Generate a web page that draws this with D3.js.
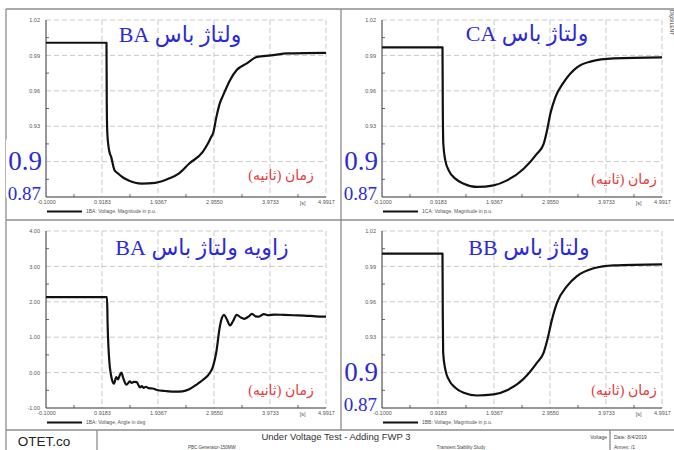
<!DOCTYPE html>
<html>
<head>
<meta charset="utf-8">
<script src="https://cdn.jsdelivr.net/npm/d3@7"></script>
<style>
  body { margin: 0; background: #fff; }
  svg { display: block; }
</style>
</head>
<body>
<script>
// time axis (seconds) shared by all four plots
var xTicks = [-0.1, 0.9183, 1.9367, 2.955, 3.9733, 4.9917];
var xTickLabels = ["-0.1000", "0.9183", "1.9367", "2.9550", "3.9733", "4.9917"];

var magTicks = [0.87, 0.90, 0.93, 0.96, 0.99, 1.02];
var magTickLabels = ["0.87", "0.90", "0.93", "0.96", "0.99", "1.02"];
var angTicks = [-1, 0, 1, 2, 3, 4];
var angTickLabels = ["-1.00", "0.00", "1.00", "2.00", "3.00", "4.00"];

// bus BA voltage magnitude (p.u.)
var timeBA = [-0.1, 1.0, 1.005, 1.015, 1.05, 1.085, 1.146, 1.209, 1.30, 1.394, 1.64, 1.887, 2.135, 2.32, 2.505, 2.751, 2.844, 2.905, 2.937, 2.999, 3.06, 3.122, 3.246, 3.368, 3.553, 3.738, 3.986, 4.294, 4.9917];
var voltBA = [1.0007, 1.0007, 0.95, 0.924, 0.909, 0.904, 0.8927, 0.890, 0.8865, 0.8842, 0.8814, 0.882, 0.8856, 0.890, 0.8984, 0.9082, 0.9153, 0.921, 0.9238, 0.9379, 0.9493, 0.9563, 0.969, 0.9776, 0.9832, 0.9888, 0.990, 0.9917, 0.9922];

// bus CA voltage magnitude (p.u.)
var timeCA = [-0.1, 1.0, 1.005, 1.015, 1.051, 1.113, 1.233, 1.386, 1.628, 1.931, 2.173, 2.477, 2.719, 2.84, 2.901, 2.961, 3.052, 3.204, 3.446, 3.688, 4.113, 4.9917];
var voltCA = [0.9968, 0.9968, 0.95, 0.9151, 0.901, 0.8926, 0.8856, 0.8813, 0.8785, 0.8799, 0.8841, 0.894, 0.9067, 0.9151, 0.9264, 0.9405, 0.9545, 0.9672, 0.9799, 0.9847, 0.9875, 0.9883];

// bus BB voltage magnitude (p.u.)
var timeBB = [-0.1, 1.0, 1.005, 1.012, 1.051, 1.113, 1.233, 1.386, 1.628, 1.931, 2.173, 2.477, 2.719, 2.84, 2.901, 2.992, 3.083, 3.264, 3.446, 3.75, 4.113, 4.9917];
var voltBB = [1.0008, 1.0008, 0.95, 0.9169, 0.9027, 0.8942, 0.8872, 0.8829, 0.8806, 0.8815, 0.8851, 0.8948, 0.9084, 0.9169, 0.9267, 0.9451, 0.9593, 0.9733, 0.9818, 0.9884, 0.9909, 0.9918];

// bus BA voltage angle (deg)
var timeAng = [-0.1, 1.01, 1.02, 1.05, 1.08, 1.10, 1.135, 1.178, 1.209, 1.24, 1.27, 1.31, 1.363, 1.424, 1.46, 1.50, 1.55, 1.609, 1.64, 1.672, 1.72, 1.764, 1.84, 1.918, 2.072, 2.257, 2.381, 2.505, 2.627, 2.751, 2.875, 2.936, 2.998, 3.061, 3.10, 3.135, 3.19, 3.246, 3.30, 3.368, 3.44, 3.505, 3.58, 3.646, 3.71, 3.77, 3.862, 3.95, 4.05, 4.23, 4.40, 4.60, 4.80, 4.9917];
var angBA = [2.13, 2.13, 1.40, 0.35, -0.05, -0.20, -0.31, -0.13, -0.19, -0.08, 0.0, -0.18, -0.34, -0.25, -0.29, -0.26, -0.27, -0.42, -0.38, -0.43, -0.40, -0.44, -0.45, -0.49, -0.52, -0.54, -0.53, -0.47, -0.35, -0.21, -0.02, 0.17, 0.59, 1.30, 1.55, 1.63, 1.50, 1.33, 1.45, 1.63, 1.56, 1.52, 1.58, 1.66, 1.59, 1.58, 1.65, 1.62, 1.64, 1.63, 1.62, 1.61, 1.59, 1.58];

var timeLabel = "زمان (ثانیه)";

var W = 280, H = 177;
var blue = "#2a2ad8", red = "#e3383c", frameCol = "#8c8c8c";
var labelFont = "'Liberation Sans', Arial, sans-serif";
var serif = "'Liberation Serif', 'DejaVu Sans', serif";

var panels = [
  {left: 46, top: 20, t: timeBA, v: voltBA, ang: false, title: "ولتاژ باس BA", tx: 180, ty: 42,
   legend: "1BA: Voltage, Magnitude in p.u.", rx: 281, ry: 180},
  {left: 382, top: 20, t: timeCA, v: voltCA, ang: false, title: "ولتاژ باس CA", tx: 527, ty: 41,
   legend: "1CA: Voltage, Magnitude in p.u.", rx: 624, ry: 184},
  {left: 46, top: 231, t: timeAng, v: angBA, ang: true, title: "زاویه ولتاژ باس BA", tx: 202, ty: 255,
   legend: "1BA: Voltage, Angle in deg", rx: 281, ry: 395},
  {left: 382, top: 231, t: timeBB, v: voltBB, ang: false, title: "ولتاژ باس BB", tx: 529, ty: 255,
   legend: "1BB: Voltage, Magnitude in p.u.", rx: 624, ry: 395}
];

var svg = d3.select("body").append("svg")
  .attr("width", 674)
  .attr("height", 450);

svg.append("rect").attr("width", 674).attr("height", 450).attr("fill", "#fff");

// frame of the report sheet
var frame = [
  [6, 9, 674, 9], [6, 9, 6, 450], [341, 9, 341, 430],
  [6, 220, 674, 220], [6, 430, 674, 430], [97, 430, 97, 450], [610, 430, 610, 450]
];
svg.selectAll(".frame").data(frame).enter().append("line")
  .attr("class", "frame")
  .attr("x1", d => d[0]).attr("y1", d => d[1])
  .attr("x2", d => d[2]).attr("y2", d => d[3])
  .attr("stroke", frameCol).attr("stroke-width", 1.3);

panels.forEach(function(p) {
  var x = d3.scaleLinear().domain([-0.1, 4.9917]).range([0, W]);
  var yTicks = p.ang ? angTicks : magTicks;
  var yLabels = p.ang ? angTickLabels : magTickLabels;
  var y = d3.scaleLinear().domain(d3.extent(yTicks)).range([H, 0]);

  var g = svg.append("g").attr("transform", "translate(" + p.left + "," + p.top + ")");

  // dashed grid
  g.selectAll(".hgrid").data(yTicks.slice(1)).enter().append("line")
    .attr("x1", 0).attr("x2", W)
    .attr("y1", d => y(d)).attr("y2", d => y(d))
    .attr("stroke", "#c3c3c3").attr("stroke-width", 0.9).attr("stroke-dasharray", "5,3");
  g.selectAll(".vgrid").data(xTicks.slice(1)).enter().append("line")
    .attr("y1", 0).attr("y2", H)
    .attr("x1", d => x(d)).attr("x2", d => x(d))
    .attr("stroke", "#c3c3c3").attr("stroke-width", 0.9).attr("stroke-dasharray", "5,3");

  // axes; on the magnitude plots the two lowest labels sit under the big blue ones
  var shown = p.ang ? yTicks : yTicks.filter(d => d > 0.905);
  var yAxis = g.append("g").call(d3.axisLeft(y).tickValues(shown)
    .tickFormat(d => yLabels[yTicks.indexOf(d)]).tickSize(0).tickPadding(6));
  var xAxis = g.append("g").attr("transform", "translate(0," + H + ")")
    .call(d3.axisBottom(x).tickValues(xTicks)
      .tickFormat((d, i) => xTickLabels[i]).tickSize(0).tickPadding(3));
  [yAxis, xAxis].forEach(function(a) {
    a.select(".domain").remove();
    a.selectAll("text").attr("font-size", 5.5).attr("font-family", labelFont).attr("fill", "#555");
  });
  g.append("text")
    .attr("x", x(4.565)).attr("y", H + 7.5)
    .attr("text-anchor", "middle")
    .attr("font-size", 5.5).attr("font-family", labelFont).attr("fill", "#555")
    .text("[s]");

  // big hand-added labels
  if (!p.ang) {
    g.append("rect")
      .attr("x", -40).attr("y", y(0.90) - 22).attr("width", 39.5).attr("height", 58)
      .attr("fill", "#fff");
    g.append("text")
      .attr("x", -4).attr("y", H - 27)
      .attr("text-anchor", "end")
      .attr("font-family", serif).attr("font-size", 27).attr("fill", blue)
      .text("0.9");
    g.append("text")
      .attr("x", -5).attr("y", H + 3)
      .attr("text-anchor", "end")
      .attr("font-family", serif).attr("font-size", 19).attr("fill", blue)
      .text("0.87");
  }

  // minor ticks
  var yMinor = d3.pairs(yTicks).map(d => (d[0] + d[1]) / 2);
  var xMinor = d3.pairs(xTicks).map(d => (d[0] + d[1]) / 2);
  g.selectAll(".ymin").data(yMinor).enter().append("line")
    .attr("x1", 0).attr("x2", 3).attr("y1", d => y(d)).attr("y2", d => y(d))
    .attr("stroke", "#444").attr("stroke-width", 0.8);
  g.selectAll(".xmin").data(xMinor).enter().append("line")
    .attr("y1", H).attr("y2", H - 3).attr("x1", d => x(d)).attr("x2", d => x(d))
    .attr("stroke", "#444").attr("stroke-width", 0.8);

  // axis lines
  g.append("line").attr("x1", 0).attr("x2", 0).attr("y1", 0).attr("y2", H)
    .attr("stroke", "#333").attr("stroke-width", 1);
  g.append("line").attr("x1", 0).attr("x2", W).attr("y1", H).attr("y2", H)
    .attr("stroke", "#333").attr("stroke-width", 1);

  // the curve
  var line = d3.line()
    .x((d, i) => x(p.t[i]))
    .y(d => y(d))
    .curve(d3.curveMonotoneX);
  g.append("path")
    .attr("d", line(p.v))
    .attr("fill", "none")
    .attr("stroke", "#111")
    .attr("stroke-width", 2.2)
    .attr("stroke-linejoin", "round");

  // legend
  g.append("line").attr("x1", 1).attr("x2", 36).attr("y1", H + 14.5).attr("y2", H + 14.5)
    .attr("stroke", "#111").attr("stroke-width", 2);
  g.append("text")
    .attr("x", 40).attr("y", H + 16.3)
    .attr("font-size", 5).attr("font-family", labelFont).attr("fill", "#555")
    .text(p.legend);

  // titles (absolute positions)
  svg.append("text")
    .attr("x", p.tx).attr("y", p.ty)
    .attr("direction", "rtl")
    .attr("text-anchor", "middle")
    .attr("font-family", serif).attr("font-size", 22).attr("fill", blue)
    .text(p.title);
  svg.append("text")
    .attr("x", p.rx).attr("y", p.ry)
    .attr("direction", "rtl")
    .attr("text-anchor", "middle")
    .attr("font-family", serif).attr("font-size", 14).attr("fill", red)
    .text(timeLabel);
});

// small rotated stamp at the top right
svg.append("text")
  .attr("transform", "translate(670,10) rotate(90)")
  .attr("font-size", 5).attr("font-family", labelFont).attr("fill", "#333")
  .text("DIgSILENT");

// title block
var tb = svg.append("g").attr("font-family", labelFont);
tb.append("text").attr("x", 44).attr("y", 446).attr("text-anchor", "middle")
  .attr("font-size", 13.5).attr("fill", "#222").text("OTET.co");
tb.append("text").attr("x", 336).attr("y", 440).attr("text-anchor", "middle")
  .attr("font-size", 9.5).attr("fill", "#333").text("Under Voltage Test - Adding FWP 3");
tb.append("text").attr("x", 188).attr("y", 449)
  .attr("font-size", 4.5).attr("fill", "#444").text("PBC Generator-150MW");
tb.append("text").attr("x", 461).attr("y", 449).attr("text-anchor", "middle")
  .attr("font-size", 4.5).attr("fill", "#444").text("Transient Stability Study");
tb.append("text").attr("x", 607).attr("y", 439).attr("text-anchor", "end")
  .attr("font-size", 5).attr("fill", "#444").text("Voltage");
tb.append("text").attr("x", 614).attr("y", 439)
  .attr("font-size", 5).attr("fill", "#444").text("Date: 8/4/2019");
tb.append("text").attr("x", 614).attr("y", 449)
  .attr("font-size", 5).attr("fill", "#444").text("Annex: /1");
</script>
</body>
</html>
